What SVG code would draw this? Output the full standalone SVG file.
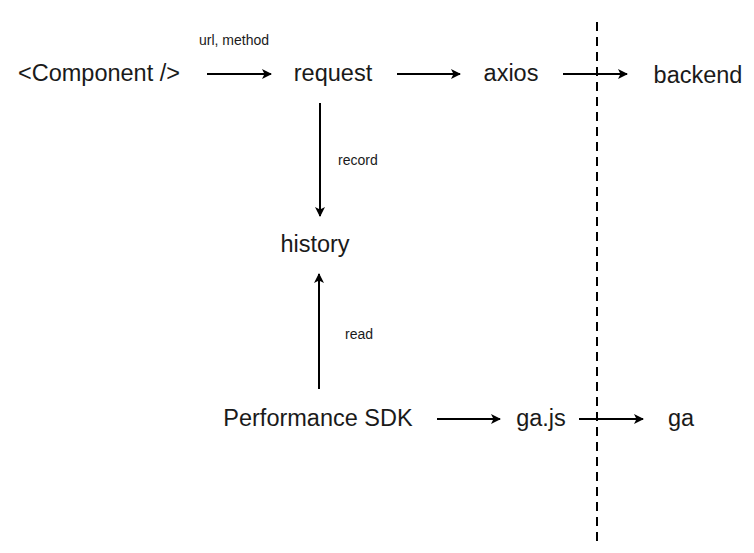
<svg xmlns="http://www.w3.org/2000/svg" width="754" height="553" viewBox="0 0 754 553">
<style>
.n{font-family:"Liberation Sans",Arial,sans-serif;font-size:23.5px;fill:#1a1a1a;text-anchor:middle}
.l{font-family:"Liberation Sans",Arial,sans-serif;font-size:14px;fill:#1a1a1a;text-anchor:start}
.c{stroke:#000;stroke-width:2;fill:none}
</style>
<defs>
<marker id="ah" viewBox="0 0 10 10" refX="9" refY="5" markerWidth="5" markerHeight="5" orient="auto" markerUnits="strokeWidth">
<path d="M0,0 L10,5 L0,10 L2.5,5 Z" fill="#000"/>
</marker>
</defs>
<rect width="754" height="553" fill="#fff"/>
<g id="connectors">
<line class="c" x1="207" y1="74" x2="271" y2="74" marker-end="url(#ah)"/>
<line class="c" x1="397" y1="74" x2="460" y2="74" marker-end="url(#ah)"/>
<line class="c" x1="563" y1="74" x2="627" y2="74" marker-end="url(#ah)"/>
<line class="c" x1="320" y1="103" x2="320" y2="216" marker-end="url(#ah)"/>
<line class="c" x1="319" y1="389" x2="319" y2="274" marker-end="url(#ah)"/>
<line class="c" x1="437" y1="419" x2="500" y2="419" marker-end="url(#ah)"/>
<line class="c" x1="579" y1="419" x2="643" y2="419" marker-end="url(#ah)"/>
<line x1="597" y1="22" x2="597" y2="541" stroke="#000" stroke-width="2" stroke-dasharray="9,6"/>
<text class="l" x="199" y="45">url, method</text>
<text class="l" x="338" y="165">record</text>
<text class="l" x="345" y="339">read</text>
</g>
<g id="component"><text class="n" x="99" y="81">&lt;Component /&gt;</text></g>
<g id="request"><text class="n" x="333" y="81">request</text></g>
<g id="axios"><text class="n" x="511" y="81">axios</text></g>
<g id="backend"><text class="n" x="698" y="83">backend</text></g>
<g id="history"><text class="n" x="315" y="252">history</text></g>
<g id="perf"><text class="n" x="318" y="426">Performance SDK</text></g>
<g id="gajs"><text class="n" x="541" y="426">ga.js</text></g>
<g id="ga"><text class="n" x="681" y="426">ga</text></g>
</svg>
